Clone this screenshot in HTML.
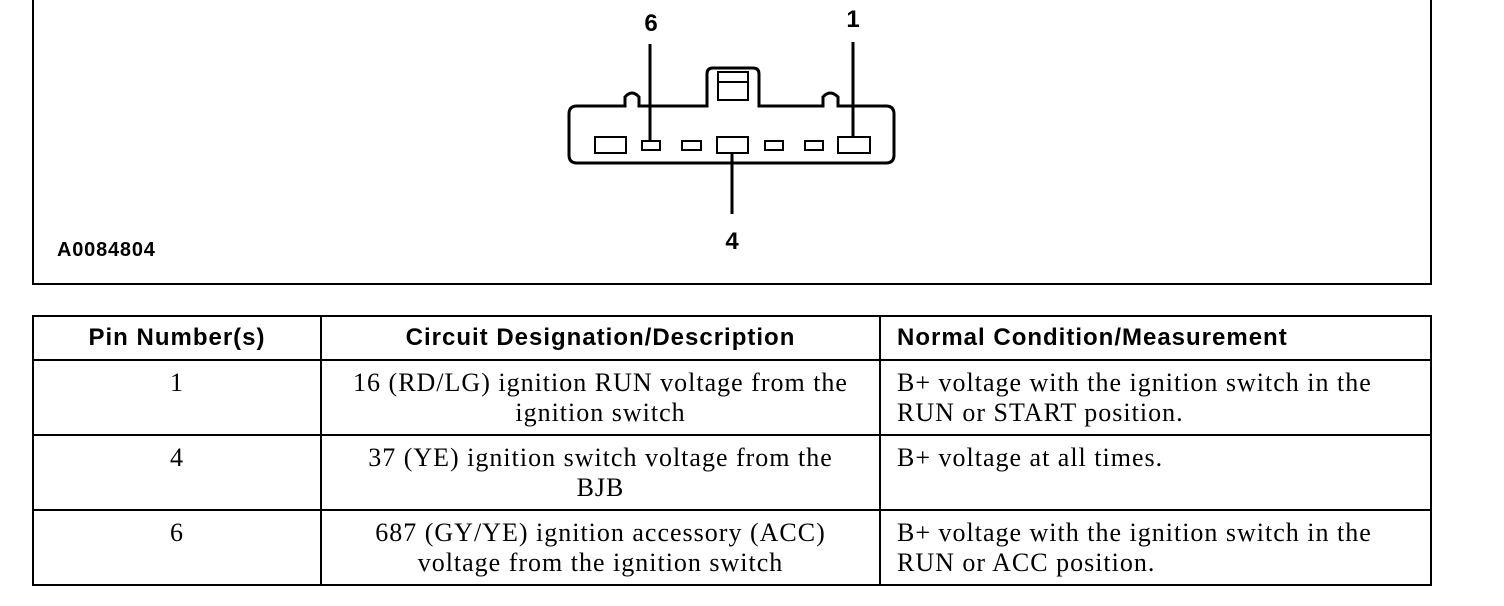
<!DOCTYPE html>
<html><head><style>
body{margin:0;width:1504px;height:606px;background:#fff;position:relative;overflow:hidden}
.frame{position:absolute;left:32px;top:-4px;width:1396px;height:285px;border:2px solid #000}
.lbl{position:absolute;font-family:"Liberation Sans",sans-serif;font-weight:bold}
table{position:absolute;left:32px;top:315px;border-collapse:collapse;width:1400px;table-layout:fixed}
td,th{border:2px solid #000;padding:0}
th{font-family:"Liberation Sans",sans-serif;font-size:24px;letter-spacing:1px;height:42px;font-weight:bold}
td{font-family:"Liberation Serif",serif;font-size:26px;letter-spacing:1px;height:66px;vertical-align:top;line-height:30px;padding-top:7px;white-space:nowrap}
.c{text-align:center}.l{padding-left:16px}
</style></head><body>
<div class="frame"></div>
<div class="lbl" style="left:57px;top:239px;font-size:20px;letter-spacing:0.8px">A0084804</div>
<svg style="position:absolute;left:0;top:0" width="1504" height="290">
<g fill="none" stroke="#000" stroke-width="3">
<path d="M577 106 L625 106 L625 97 Q632 89 639 97 L639 106 L707 106 L707 74 Q707 68 713 68 L753 68 Q759 68 759 74 L759 106 L823 106 L823 97 Q830 89 838 97 L838 106 L886 106 Q894 106 894 114 L894 155 Q894 163 886 163 L577 163 Q569 163 569 155 L569 114 Q569 106 577 106 Z"/>
<rect x="718" y="72" width="30" height="28" stroke-width="2"/>
<line x1="718" y1="82" x2="748" y2="82" stroke-width="2"/>
<g stroke-width="2">
<rect x="595" y="137" width="31" height="16"/>
<rect x="642" y="141" width="18" height="9"/>
<rect x="682" y="141" width="19" height="9"/>
<rect x="717" y="137" width="31" height="16"/>
<rect x="765" y="141" width="18" height="9"/>
<rect x="805" y="141" width="18" height="9"/>
<rect x="838" y="137" width="32" height="16"/>
</g>
<line x1="650" y1="44" x2="650" y2="141"/>
<line x1="853" y1="42" x2="853" y2="137"/>
<line x1="732" y1="153" x2="732" y2="214"/>
</g>
<g font-family="Liberation Sans,sans-serif" font-weight="bold" font-size="24" text-anchor="middle">
<text x="651" y="31">6</text><text x="853" y="27">1</text><text x="732" y="249">4</text>
</g>
</svg>
<table>
<tr><th style="width:286px">Pin Number(s)</th><th style="width:557px">Circuit Designation/Description</th><th style="text-align:left;padding-left:16px">Normal Condition/Measurement</th></tr>
<tr><td class="c">1</td><td class="c">16 (RD/LG) ignition RUN voltage from the<br>ignition switch</td><td class="l">B+ voltage with the ignition switch in the<br>RUN or START position.</td></tr>
<tr><td class="c">4</td><td class="c">37 (YE) ignition switch voltage from the<br>BJB</td><td class="l">B+ voltage at all times.</td></tr>
<tr><td class="c">6</td><td class="c">687 (GY/YE) ignition accessory (ACC)<br>voltage from the ignition switch</td><td class="l">B+ voltage with the ignition switch in the<br>RUN or ACC position.</td></tr>
</table>
</body></html>
